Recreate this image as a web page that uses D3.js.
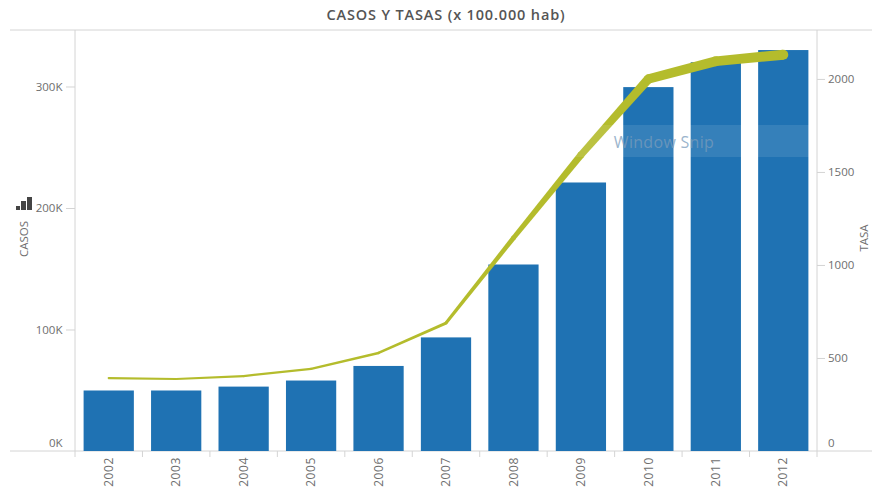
<!DOCTYPE html>
<html><head><meta charset="utf-8">
<script src="https://cdn.jsdelivr.net/npm/d3@7/dist/d3.min.js"></script>
<style>html,body{margin:0;padding:0;background:#fff}svg{display:block}text{font-family:"Open Sans",sans-serif}</style>
</head><body><svg id="c" width="872" height="492"></svg>
<script>
const years=["2002","2003","2004","2005","2006","2007","2008","2009","2010","2011","2012"];
const casos=[49800,49800,53000,58000,70000,93500,153500,221000,299500,320000,330000];
const tasa=[392,387,403,441,527,688,1145,1591,2000,2095,2130];
const casosTicks=[0,100000,200000,300000];
const tasaTicks=[0,500,1000,1500,2000];
const titleText="CASOS Y TASAS (x 100.000 hab)";

const svg=d3.select("#c");
const L=75,R=817,T=30,B=451;
const x=d3.scaleBand().domain(years).range([L,R]).paddingInner(0.255).paddingOuter(0.1275);
const yL=d3.scaleLinear().domain([0,346500]).range([B,T]);
const yR=d3.scaleLinear().domain([0,2263]).range([B,T]);
const w=d3.scalePow().exponent(1.6).domain([387,2130]).range([2.2,10]);

const grey="#d4d4d4", txt="#6e6e6e";
svg.append("line").attr("x1",10).attr("x2",872).attr("y1",T).attr("y2",T).attr("stroke",grey);
svg.append("line").attr("x1",10).attr("x2",872).attr("y1",B).attr("y2",B).attr("stroke",grey);

svg.append("g").selectAll("rect").data(years).join("rect")
 .attr("x",d=>x(d)).attr("width",x.bandwidth())
 .attr("y",(d,i)=>yL(casos[i])).attr("height",(d,i)=>B-yL(casos[i]))
 .attr("fill","#1f72b3");

// line with width following the rate: tapered segment per pair of points
const pts=years.map((d,i)=>({x:x(d)+x.bandwidth()/2,y:yR(tasa[i]),r:w(tasa[i])/2}));
const lineColor="#b4bc2c";
const poly=d3.line();
const g=svg.append("g");
g.selectAll("path").data(d3.pairs(pts)).join("path")
 .attr("fill",lineColor)
 .attr("d",([a,b])=>{
   const dx=b.x-a.x,dy=b.y-a.y,l=Math.hypot(dx,dy),nx=-dy/l,ny=dx/l;
   return poly([[a.x+nx*a.r,a.y+ny*a.r],[b.x+nx*b.r,b.y+ny*b.r],[b.x-nx*b.r,b.y-ny*b.r],[a.x-nx*a.r,a.y-ny*a.r]])+"Z";
 });
g.selectAll("circle").data(pts).join("circle")
 .attr("cx",d=>d.x).attr("cy",d=>d.y).attr("r",d=>d.r).attr("fill",lineColor);

// y axes
const axL=svg.append("g").attr("transform",`translate(${L},0)`)
 .call(d3.axisLeft(yL).tickValues(casosTicks).tickFormat(d=>(d/1000)+"K").tickSize(9).tickPadding(3.5));
const axR=svg.append("g").attr("transform",`translate(${R},0)`)
 .call(d3.axisRight(yR).tickValues(tasaTicks).tickFormat(d3.format("d")).tickSize(8).tickPadding(3));
[axL,axR].forEach(a=>{a.select(".domain").attr("stroke",grey);a.selectAll(".tick line").attr("stroke",grey);
 a.selectAll("text").attr("fill",txt).style("font-size","11.5px");});
axL.selectAll(".tick").filter(d=>d===0).select("line").remove();
axR.selectAll(".tick").filter(d=>d===0).select("line").remove();
axL.selectAll(".tick text").filter(d=>d===0).attr("y",-8).attr("dy","0.3em");
axR.selectAll(".tick text").filter(d=>d===0).attr("y",-8).attr("dy","0.3em");
axL.select(".domain").attr("d",`M0,${T}V${B+6}`);
axR.select(".domain").attr("d",`M0,${T}V${B+6}`);

// x axis
const axB=svg.append("g").attr("transform",`translate(0,${B})`)
 .call(d3.axisBottom(x).tickSize(0).tickPadding(0));
axB.select(".domain").remove();
axB.selectAll(".tick text").attr("transform","rotate(-90)").attr("text-anchor","end")
 .attr("x",-6).attr("y",0).attr("dy","0.35em").attr("fill",txt).style("font-size","12px").style("letter-spacing","0.6px");
svg.append("g").selectAll("line").data(years.slice(1)).join("line")
 .attr("x1",d=>x(d)-x.step()*x.paddingInner()/2).attr("x2",d=>x(d)-x.step()*x.paddingInner()/2)
 .attr("y1",B).attr("y2",B+6).attr("stroke",grey);

svg.append("text").attr("x",446).attr("y",20).attr("text-anchor","middle")
 .attr("fill","#555").attr("font-weight","600").style("font-size","14.5px").style("letter-spacing","0.85px").text(titleText);
svg.append("text").attr("transform","translate(28,239) rotate(-90)").attr("text-anchor","middle")
 .attr("fill",txt).style("font-size","11.5px").text("CASOS");
svg.append("text").attr("transform","translate(867.5,238) rotate(-90)").attr("text-anchor","middle")
 .attr("fill",txt).style("font-size","11.5px").text("TASA");

// sort icon
const icon=svg.append("g").attr("fill","#444");
[[16,206,4,4],[21,201,5,9],[27,197,5,13]].forEach(r=>icon.append("rect").attr("x",r[0]).attr("y",r[1]).attr("width",r[2]).attr("height",r[3]));

// Window Snip overlay
svg.append("rect").attr("x",564).attr("y",125).attr("width",245).attr("height",32).attr("fill","#fff").attr("opacity",0.1);
svg.append("text").attr("x",664).attr("y",148).attr("text-anchor","middle")
 .attr("fill","#7a9cbc").attr("opacity",0.75).style("font-size","16px").style("letter-spacing","0.3px").text("Window Snip");
</script></body></html>
